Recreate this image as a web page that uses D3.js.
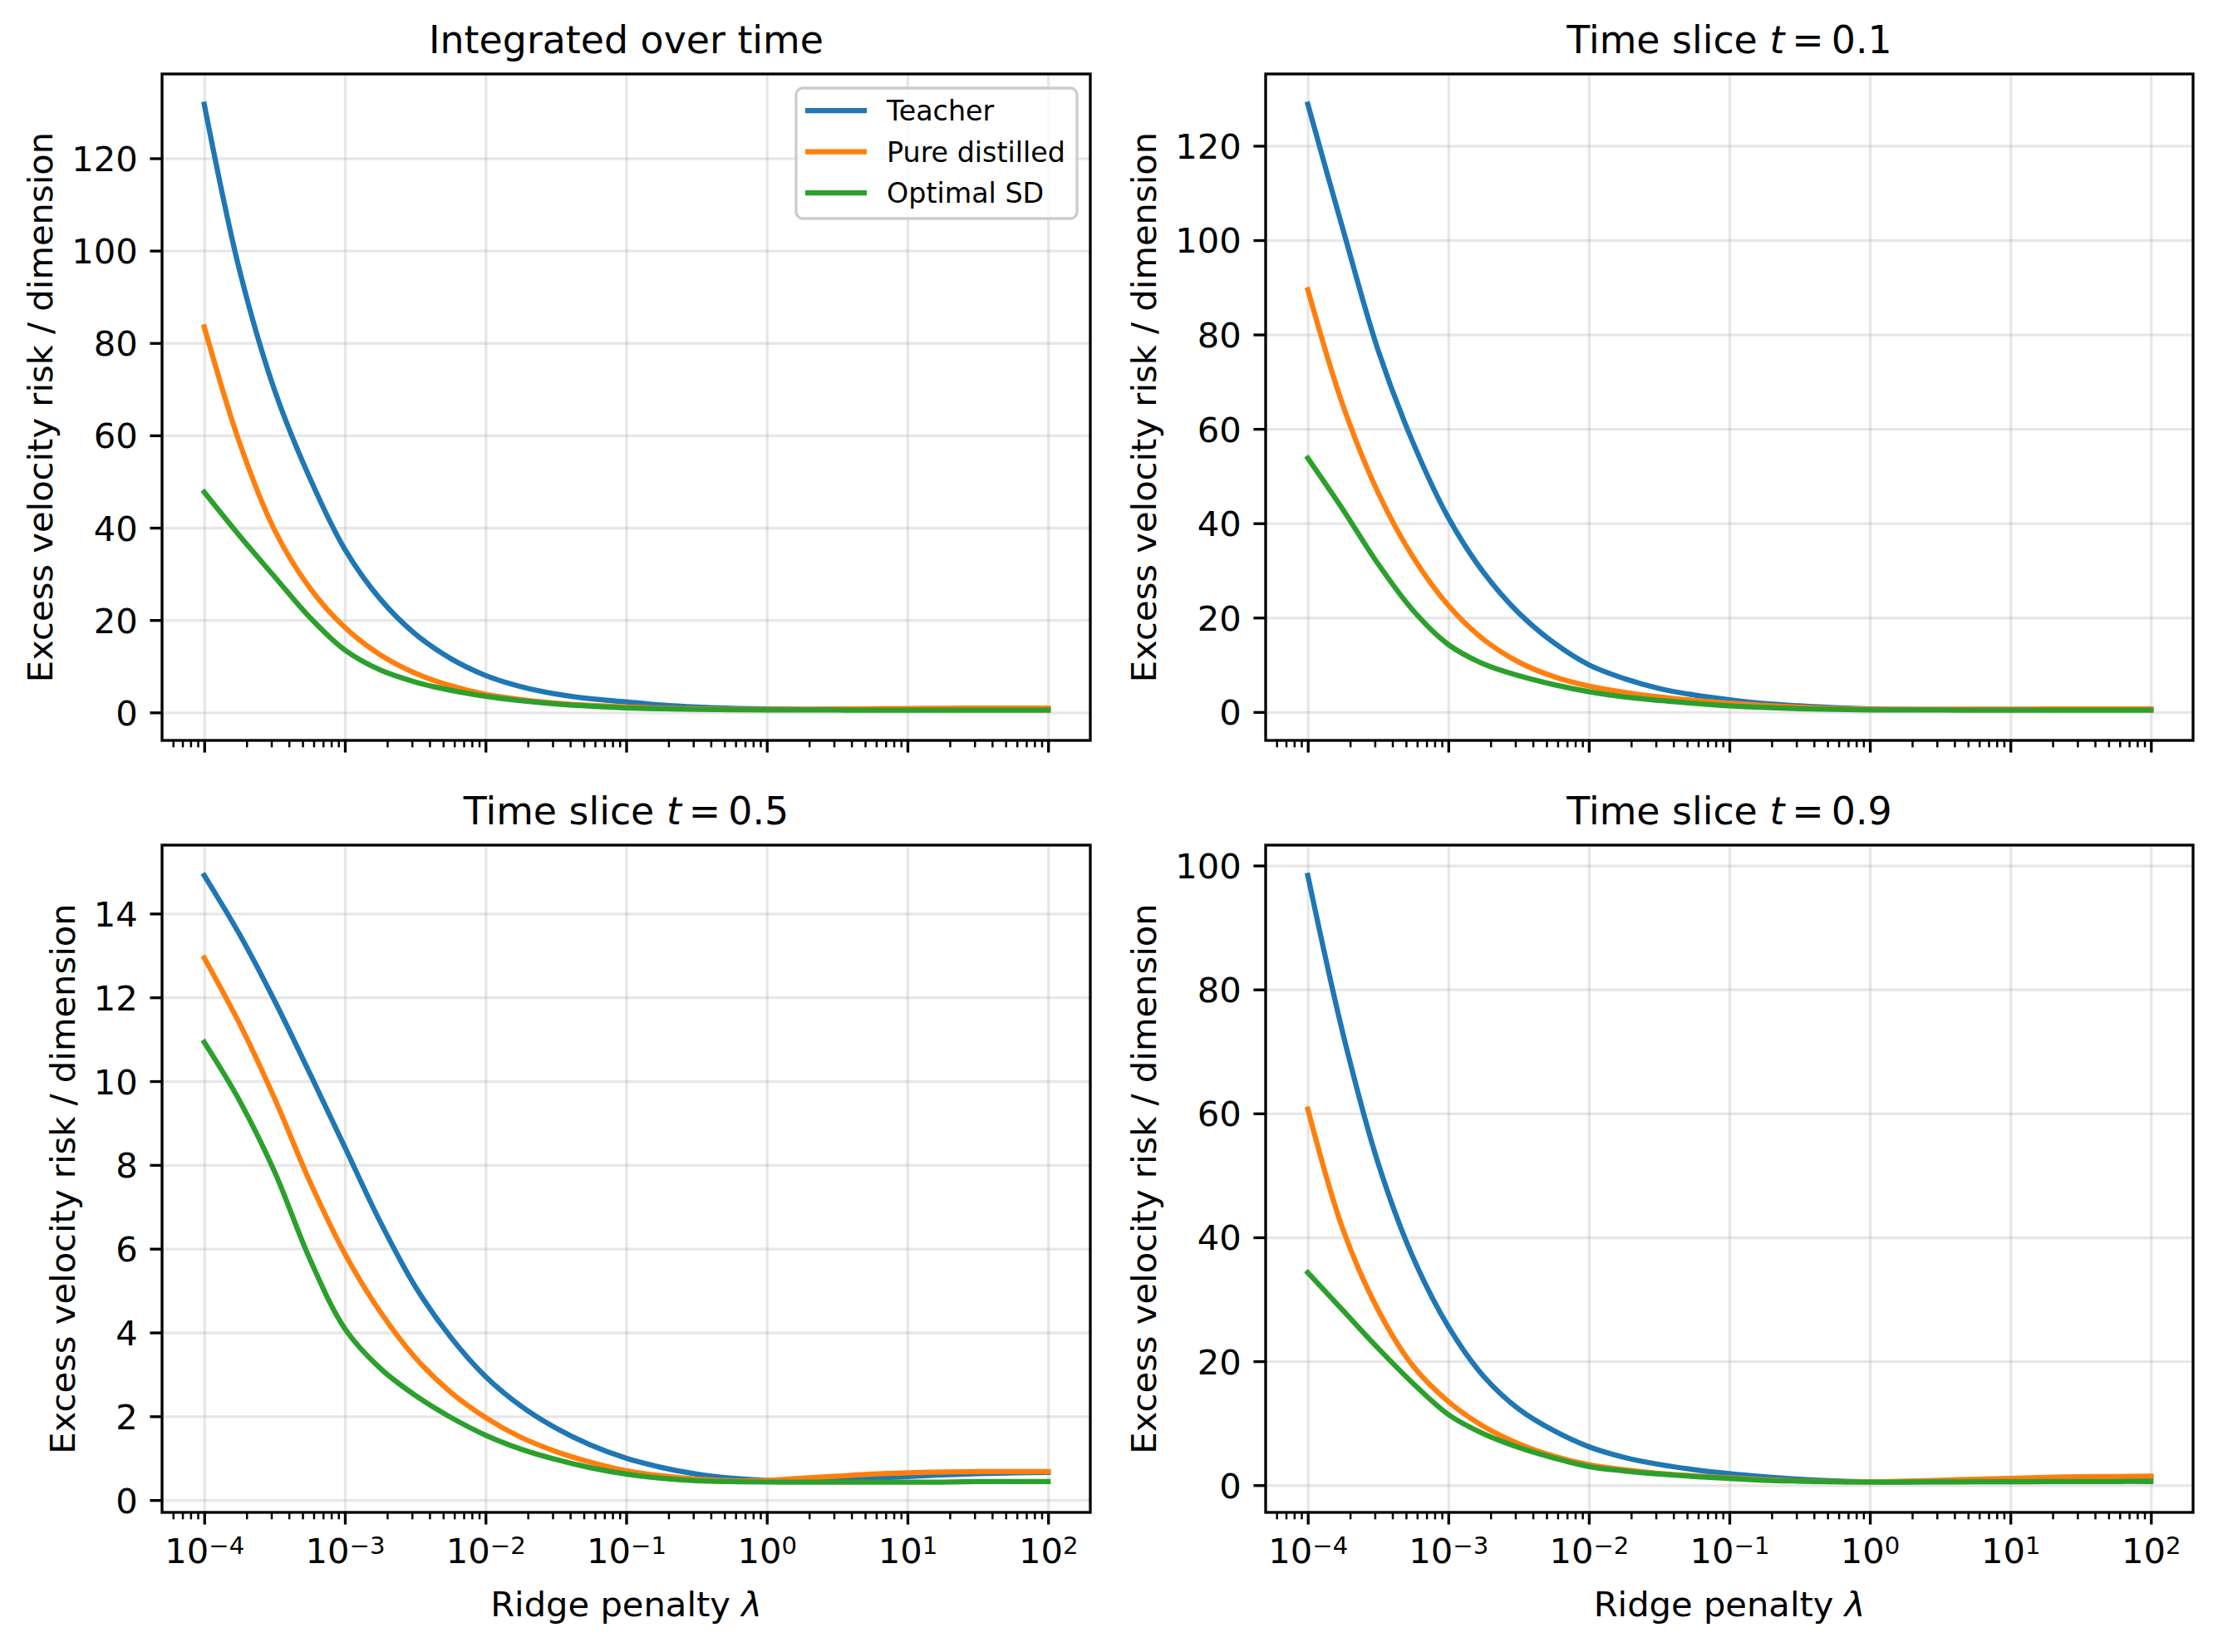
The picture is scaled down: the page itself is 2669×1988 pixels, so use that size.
<!DOCTYPE html>
<html lang="en">
<head>
<meta charset="UTF-8">
<title>Excess velocity risk vs ridge penalty</title>
<script src="https://d3js.org/d3.v7.min.js"></script>
<style>
  body { margin: 0; background: #fff; }
  svg { display: block; font-family: "DejaVu Sans", sans-serif; }
</style>
</head>
<body>
<script>
// ridge penalty grid (quarter decades from 1e-4 to 1e2)
const lambdas = [1e-4, 1.778e-4, 3.162e-4, 5.623e-4, 1e-3, 1.778e-3, 3.162e-3, 5.623e-3,
                 1e-2, 1.778e-2, 3.162e-2, 5.623e-2, 1e-1, 0.1778, 0.3162, 0.5623,
                 1, 1.778, 3.162, 5.623, 10, 17.78, 31.62, 56.23, 100];

const seriesNames = ["Teacher", "Pure distilled", "Optimal SD"];
const colors = ["#1f77b4", "#ff7f0e", "#2ca02c"];

// Integrated over time
const intTeacher = [131.7, 95.9, 69.8, 50.8, 35.3, 24.6, 17.0, 11.7, 8.0, 5.6, 4.0, 2.95, 2.3, 1.6, 1.15, 0.9, 0.75, 0.68, 0.65, 0.65, 0.68, 0.7, 0.72, 0.74, 0.75];
const intPure    = [83.5, 58.5, 39.5, 27.0, 18.4, 12.5, 8.5, 5.8, 3.9, 2.8, 2.0, 1.5, 1.2, 0.95, 0.8, 0.7, 0.66, 0.68, 0.74, 0.8, 0.86, 0.9, 0.92, 0.93, 0.93];
const intOptimal = [47.7, 38.3, 29.4, 20.6, 13.5, 9.2, 6.6, 4.8, 3.5, 2.55, 1.85, 1.35, 1.0, 0.78, 0.65, 0.58, 0.54, 0.52, 0.51, 0.5, 0.5, 0.5, 0.5, 0.5, 0.5];

// Time slice t = 0.1
const t01Teacher = [128.8, 102.3, 76.7, 57.0, 41.2, 29.6, 21.0, 14.7, 10.0, 7.1, 5.0, 3.6, 2.6, 1.8, 1.3, 0.9, 0.65, 0.55, 0.5, 0.5, 0.5, 0.5, 0.5, 0.5, 0.5];
const t01Pure    = [89.5, 65.0, 46.5, 32.8, 22.6, 15.4, 10.6, 7.5, 5.5, 4.2, 3.2, 2.45, 1.9, 1.4, 1.0, 0.75, 0.6, 0.55, 0.58, 0.6, 0.62, 0.63, 0.64, 0.65, 0.65];
const t01Optimal = [53.8, 42.9, 31.4, 21.5, 14.3, 10.2, 7.7, 5.8, 4.3, 3.2, 2.45, 1.85, 1.3, 0.95, 0.7, 0.55, 0.45, 0.42, 0.41, 0.4, 0.4, 0.4, 0.4, 0.4, 0.4];

// Time slice t = 0.5
const t05Teacher = [14.91, 13.51, 11.92, 10.19, 8.42, 6.65, 5.1, 3.9, 2.95, 2.25, 1.72, 1.31, 1.0, 0.78, 0.62, 0.52, 0.47, 0.47, 0.49, 0.52, 0.56, 0.60, 0.63, 0.65, 0.66];
const t05Pure    = [12.94, 11.38, 9.59, 7.61, 5.88, 4.5, 3.4, 2.58, 1.97, 1.5, 1.16, 0.9, 0.7, 0.58, 0.5, 0.46, 0.47, 0.52, 0.57, 0.62, 0.65, 0.67, 0.68, 0.68, 0.68];
const t05Optimal = [10.93, 9.54, 7.84, 5.76, 4.09, 3.15, 2.5, 1.98, 1.55, 1.22, 0.97, 0.77, 0.62, 0.52, 0.46, 0.44, 0.43, 0.43, 0.43, 0.43, 0.43, 0.43, 0.44, 0.44, 0.44];

// Time slice t = 0.9
const t09Teacher = [98.4, 72.9, 52.0, 36.7, 25.6, 17.6, 12.3, 8.8, 6.2, 4.5, 3.35, 2.5, 1.85, 1.35, 0.95, 0.7, 0.55, 0.55, 0.6, 0.7, 0.8, 0.95, 1.1, 1.2, 1.3];
const t09Pure    = [60.7, 41.3, 28.3, 19.2, 13.5, 9.5, 6.7, 4.7, 3.3, 2.5, 1.9, 1.5, 1.2, 0.9, 0.7, 0.58, 0.55, 0.65, 0.8, 0.95, 1.1, 1.25, 1.35, 1.4, 1.45];
const t09Optimal = [34.3, 28.2, 22.1, 16.4, 11.4, 8.3, 6.1, 4.4, 3.0, 2.3, 1.8, 1.4, 1.1, 0.8, 0.65, 0.55, 0.5, 0.5, 0.52, 0.54, 0.55, 0.57, 0.58, 0.6, 0.6];

const xTicks = [1e-4, 1e-3, 1e-2, 1e-1, 1, 10, 100];
const xTickExps = ["\u22124", "\u22123", "\u22122", "\u22121", "0", "1", "2"];
const yTicksTop = [0, 20, 40, 60, 80, 100, 120];
const yTicksT05 = [0, 2, 4, 6, 8, 10, 12, 14];
const yTicksT09 = [0, 20, 40, 60, 80, 100];

const panels = [
  { title: "Integrated over time", t: null, series: [intTeacher, intPure, intOptimal], yTicks: yTicksTop, legend: true },
  { title: "Time slice ", t: "0.1", series: [t01Teacher, t01Pure, t01Optimal], yTicks: yTicksTop },
  { title: "Time slice ", t: "0.5", series: [t05Teacher, t05Pure, t05Optimal], yTicks: yTicksT05, xLabels: true },
  { title: "Time slice ", t: "0.9", series: [t09Teacher, t09Pure, t09Optimal], yTicks: yTicksT09, xLabels: true }
];

const yLabel = "Excess velocity risk / dimension";
const xLabel = "Ridge penalty ";

// figure geometry (300 dpi)
const W = 2669, H = 1988;
const PT = 300 / 72;
const layout = [
  { x0: 195, x1: 1312, y0: 89, y1: 891 },
  { x0: 1523, x1: 2639, y0: 89, y1: 891 },
  { x0: 195, x1: 1312, y0: 1017, y1: 1820 },
  { x0: 1523, x1: 2639, y0: 1017, y1: 1820 }
];
const tickFont = 10 * PT, titleFont = 11 * PT, legendFont = 8 * PT;
const majorLen = 3.5 * PT, minorLen = 2 * PT, tickPad = 3.5 * PT;

const svg = d3.select("body").append("svg").attr("width", W).attr("height", H);
svg.append("rect").attr("width", W).attr("height", H).attr("fill", "#fff");

// log x domain with 5% margins
const lx0 = Math.log10(d3.min(lambdas)), lx1 = Math.log10(d3.max(lambdas));
const lm = (lx1 - lx0) * 0.05;
const xDomain = [Math.pow(10, lx0 - lm), Math.pow(10, lx1 + lm)];
const minorTicks = [];
for (let e = -5; e <= 2; e++) {
  for (let m = 2; m <= 9; m++) {
    const v = m * Math.pow(10, e);
    if (v >= xDomain[0] && v <= xDomain[1]) minorTicks.push(v);
  }
}

panels.forEach((p, i) => {
  const L = layout[i];
  const g = svg.append("g");

  const x = d3.scaleLog().domain(xDomain).range([L.x0, L.x1]);
  const [lo, hi] = d3.extent(p.series.flat());
  const pad = (hi - lo) * 0.05;
  const y = d3.scaleLinear().domain([lo - pad, hi + pad]).range([L.y1, L.y0]);

  // grid
  g.append("g").attr("transform", `translate(0,${L.y1})`)
    .call(d3.axisBottom(x).tickValues(xTicks).tickSize(-(L.y1 - L.y0)).tickFormat(""))
    .call(s => s.select(".domain").remove())
    .selectAll("line").attr("stroke", "#b0b0b0").attr("stroke-opacity", 0.3).attr("stroke-width", 0.8 * PT);
  g.append("g").attr("transform", `translate(${L.x0},0)`)
    .call(d3.axisLeft(y).tickValues(p.yTicks).tickSize(-(L.x1 - L.x0)).tickFormat(""))
    .call(s => s.select(".domain").remove())
    .selectAll("line").attr("stroke", "#b0b0b0").attr("stroke-opacity", 0.3).attr("stroke-width", 0.8 * PT);

  // curves
  const line = d3.line()
    .x((d, j) => x(lambdas[j]))
    .y(d => y(d))
    .curve(d3.curveCatmullRom.alpha(0.5));
  const clipId = "clip" + i;
  svg.append("clipPath").attr("id", clipId).append("rect")
    .attr("x", L.x0).attr("y", L.y0).attr("width", L.x1 - L.x0).attr("height", L.y1 - L.y0);
  p.series.forEach((s, k) => {
    g.append("path")
      .attr("d", line(s))
      .attr("fill", "none")
      .attr("stroke", colors[k])
      .attr("stroke-width", 1.5 * PT)
      .attr("stroke-linejoin", "round")
      .attr("stroke-linecap", "square")
      .attr("clip-path", `url(#${clipId})`);
  });

  // x ticks
  g.append("g").attr("transform", `translate(0,${L.y1})`)
    .call(d3.axisBottom(x).tickValues(minorTicks).tickSize(minorLen).tickFormat(""))
    .call(s => s.select(".domain").remove())
    .call(s => s.selectAll("line").attr("stroke", "#000").attr("stroke-width", 0.6 * PT))
    .call(s => s.selectAll("text").remove());
  const xa = g.append("g").attr("transform", `translate(0,${L.y1})`)
    .call(d3.axisBottom(x).tickValues(xTicks).tickSize(majorLen).tickFormat(""))
    .call(s => s.select(".domain").remove())
    .call(s => s.selectAll("line").attr("stroke", "#000").attr("stroke-width", 0.8 * PT));
  xa.selectAll("text").remove();
  if (p.xLabels) {
    xa.selectAll(".tick").append("text")
      .attr("y", 61)
      .attr("fill", "#000")
      .attr("text-anchor", "middle")
      .attr("font-family", "DejaVu Sans")
      .attr("font-size", tickFont)
      .each(function (d, j) {
        const t = d3.select(this);
        t.append("tspan").text("10");
        t.append("tspan").attr("dy", -11.5).attr("font-size", tickFont * 0.7).text(xTickExps[j]);
      });
    g.append("text")
      .attr("x", (L.x0 + L.x1) / 2)
      .attr("y", L.y1 + 125)
      .attr("text-anchor", "middle")
      .attr("font-size", tickFont)
      .call(t => {
        t.append("tspan").text(xLabel);
        t.append("tspan").attr("font-style", "italic").text("\u03bb");
      });
  }

  // y ticks
  const ya = g.append("g").attr("transform", `translate(${L.x0},0)`)
    .call(d3.axisLeft(y).tickValues(p.yTicks).tickSize(majorLen).tickPadding(tickPad).tickFormat(d3.format("d")))
    .call(s => s.select(".domain").remove())
    .call(s => s.selectAll("line").attr("stroke", "#000").attr("stroke-width", 0.8 * PT));
  ya.attr("font-family", "DejaVu Sans").attr("font-size", tickFont);
  ya.selectAll("text").attr("fill", "#000").attr("dy", "0.36em");
  const maxW = d3.max(ya.selectAll("text").nodes(), n => n.getComputedTextLength());
  const labX = L.x0 - majorLen - tickPad - maxW - 23;
  g.append("text")
    .attr("transform", `translate(${labX},${(L.y0 + L.y1) / 2}) rotate(-90)`)
    .attr("text-anchor", "middle")
    .attr("font-size", tickFont)
    .text(yLabel);

  // spines
  g.append("rect")
    .attr("x", L.x0).attr("y", L.y0)
    .attr("width", L.x1 - L.x0).attr("height", L.y1 - L.y0)
    .attr("fill", "none").attr("stroke", "#000").attr("stroke-width", 0.8 * PT);

  // title
  const title = g.append("text")
    .attr("x", (L.x0 + L.x1) / 2)
    .attr("y", L.y0 - 25)
    .attr("text-anchor", "middle")
    .attr("font-size", titleFont);
  title.append("tspan").text(p.title);
  if (p.t) {
    title.append("tspan").attr("font-style", "italic").text("t");
    title.append("tspan").attr("dx", 9).text("=");
    title.append("tspan").attr("dx", 9).text(p.t);
  }

  // legend
  if (p.legend) {
    const lg = g.append("g");
    const bx1 = L.x1 - 16, by0 = L.y0 + 17;
    lg.append("rect")
      .attr("x", bx1 - 338).attr("y", by0)
      .attr("width", 338).attr("height", 157)
      .attr("rx", 8)
      .attr("fill", "#fff").attr("fill-opacity", 0.8)
      .attr("stroke", "#cccccc").attr("stroke-width", 0.8 * PT);
    seriesNames.forEach((name, k) => {
      const ly = L.y0 + 44 + k * 49.5;
      lg.append("line")
        .attr("x1", bx1 - 327).attr("x2", bx1 - 253)
        .attr("y1", ly).attr("y2", ly)
        .attr("stroke", colors[k]).attr("stroke-width", 1.5 * PT);
      lg.append("text")
        .attr("x", bx1 - 229).attr("y", ly + 12)
        .attr("font-size", legendFont)
        .text(name);
    });
  }
});
</script>
</body>
</html>
